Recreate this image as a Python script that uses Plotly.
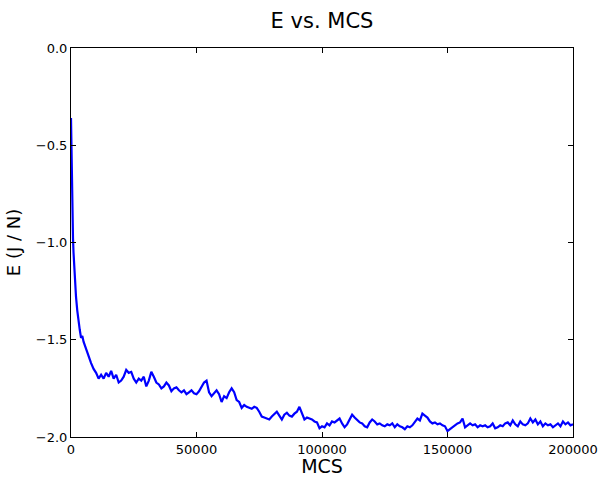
import plotly.graph_objects as go

# Energy per spin recorded over the Monte Carlo run
mcs_early = [0, 200, 400, 600, 800, 1000, 1200, 1500, 2000, 2500, 3000, 3500, 4000, 4500]
e_early = [-0.36, -0.60, -0.78, -0.90, -0.98, -1.05, -1.11, -1.19, -1.28, -1.35,
           -1.41, -1.45, -1.49, -1.48]

mcs_start = 5000
mcs_step = 1000
e_values = [
    -1.51, -1.55, -1.59, -1.62, -1.65, -1.67, -1.70, -1.68, -1.70, -1.67,   # 5k-14k
    -1.69, -1.66, -1.70, -1.68, -1.72, -1.71, -1.69, -1.655, -1.67, -1.665,  # 15k-24k
    -1.70, -1.72, -1.70, -1.71, -1.69, -1.74, -1.71, -1.665, -1.69, -1.72,   # 25k-34k
    -1.73, -1.75, -1.74, -1.72, -1.735, -1.765, -1.75, -1.745, -1.76, -1.77, # 35k-44k
    -1.76, -1.78, -1.77, -1.76, -1.775, -1.78, -1.765, -1.74, -1.72, -1.71,  # 45k-54k
    -1.77, -1.79, -1.775, -1.76, -1.78, -1.82, -1.79, -1.80, -1.77, -1.75,   # 55k-64k
    -1.77, -1.81, -1.82, -1.85, -1.835, -1.845, -1.85, -1.855, -1.845, -1.85, # 65k-74k
    -1.87, -1.895, -1.90, -1.905, -1.91, -1.895, -1.88, -1.87, -1.89, -1.91, # 75k-84k
    -1.885, -1.875, -1.89, -1.895, -1.88, -1.87, -1.845, -1.88, -1.91, -1.90, # 85k-94k
    -1.905, -1.91, -1.92, -1.925, -1.955, -1.945, -1.95, -1.93, -1.94, -1.92, # 95k-104k
    -1.925, -1.915, -1.905, -1.93, -1.95, -1.935, -1.91, -1.885, -1.90, -1.915, # 105k-114k
    -1.925, -1.93, -1.945, -1.95, -1.925, -1.91, -1.92, -1.935, -1.93, -1.94, # 115k-124k
    -1.945, -1.935, -1.94, -1.93, -1.95, -1.935, -1.945, -1.95, -1.96, -1.945, # 125k-134k
    -1.95, -1.94, -1.92, -1.905, -1.915, -1.88, -1.89, -1.90, -1.92, -1.93,  # 135k-144k
    -1.925, -1.935, -1.93, -1.94, -1.945, -1.97, -1.96, -1.95, -1.94, -1.93, # 145k-154k
    -1.925, -1.905, -1.95, -1.94, -1.93, -1.94, -1.935, -1.95, -1.94, -1.945, # 155k-164k
    -1.94, -1.95, -1.945, -1.93, -1.955, -1.95, -1.94, -1.945, -1.93, -1.925, # 165k-174k
    -1.94, -1.915, -1.935, -1.945, -1.92, -1.935, -1.94, -1.93, -1.905, -1.925, # 175k-184k
    -1.91, -1.935, -1.92, -1.945, -1.93, -1.94, -1.935, -1.95, -1.94, -1.93, # 185k-194k
    -1.945, -1.92, -1.935, -1.925, -1.94, -1.935,                            # 195k-200k
]

x_ticks = [0, 50000, 100000, 150000, 200000]
y_ticks = [0.0, -0.5, -1.0, -1.5, -2.0]

mcs = mcs_early + [mcs_start + i * mcs_step for i in range(len(e_values))]
energy = e_early + e_values

font_family = "DejaVu Sans, Liberation Sans, sans-serif"

fig = go.Figure(
    go.Scatter(
        x=mcs,
        y=energy,
        mode="lines",
        line=dict(color="#0000ff", width=2.2),
        showlegend=False,
    )
)

axis_common = dict(
    showgrid=False,
    zeroline=False,
    showline=True,
    linecolor="black",
    linewidth=1,
    mirror="ticks",
    ticks="inside",
    ticklen=5,
    tickwidth=1,
    tickcolor="black",
    automargin=False,
    tickfont=dict(family=font_family, size=13, color="black"),
)

fig.update_layout(
    width=598,
    height=477,
    margin=dict(l=71, r=25, t=48, b=40),
    paper_bgcolor="white",
    plot_bgcolor="white",
    title=dict(
        text="E vs. MCS",
        x=(71 + 573) / 2 / 598,
        xanchor="center",
        y=1 - 21 / 477,
        yanchor="middle",
        font=dict(family=font_family, size=21, color="black"),
    ),
    xaxis=dict(
        range=[0, 200000],
        tickvals=x_ticks,
        ticktext=[str(v) for v in x_ticks],
        title=dict(text="MCS", font=dict(family=font_family, size=19, color="black"), standoff=4),
        **axis_common,
    ),
    yaxis=dict(
        range=[-2.0, 0.0],
        tickvals=y_ticks,
        tickformat=".1f",
        title=dict(text="E (J / N)", font=dict(family=font_family, size=18, color="black"), standoff=10),
        **axis_common,
    ),
)

fig.write_html("out.html")
